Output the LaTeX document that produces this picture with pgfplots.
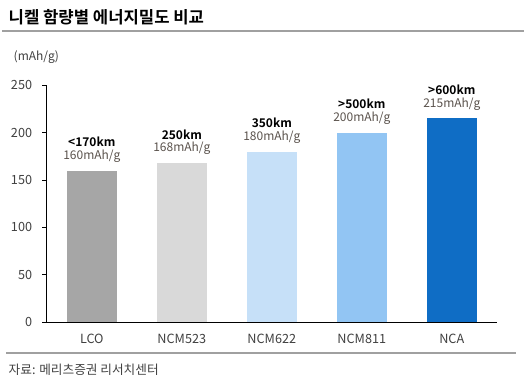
\documentclass[border=0pt]{standalone}
\usepackage{fontspec}
\setmainfont{Noto Sans CJK KR}[BoldFont={Noto Sans CJK KR Bold}]
\usepackage{pgfplots}
\pgfplotsset{compat=1.18}
\definecolor{cLCO}{HTML}{A6A6A6}
\definecolor{cN523}{HTML}{D9D9D9}
\definecolor{cN622}{HTML}{C6E0F8}
\definecolor{cN811}{HTML}{92C5F3}
\definecolor{cNCA}{HTML}{0F6DC5}
\definecolor{txt}{HTML}{404040}
\definecolor{vtxt}{HTML}{5A524C}
\definecolor{rule}{HTML}{A0A0A0}
\begin{document}
\begin{tikzpicture}[x=0.75pt,y=0.75pt]
\path[use as bounding box] (0,0) rectangle (524,381);
% title
\node[anchor=west,font=\fontsize{12.5}{14}\selectfont\bfseries] at (4,364) {니켈 함량별 에너지밀도 비교};
\draw[rule,line width=1.5pt] (2,350) -- (524,350);
\node[anchor=west,font=\fontsize{9}{11}\selectfont,text=txt] at (9,324) {(mAh/g)};
% bottom rule and source
\draw[rule,line width=0.9pt] (6,28) -- (516,28);
\node[anchor=west,font=\fontsize{9.5}{11}\selectfont,text=txt] at (4,11) {자료: 메리츠증권 리서치센터};
\begin{axis}[
  at={(52,62)}, anchor=south west,
  scale only axis, width=337.5pt, height=177.75pt,
  xmin=-0.5, xmax=4.5, ymin=0, ymax=250,
  axis x line*=bottom, axis y line*=left,
  axis line style={black, line width=0.6pt},
  ybar, bar width=37.5pt, bar shift=0pt,
  ytick={0,50,...,250},
  xtick={0,1,2,3,4},
  xticklabels={LCO,NCM523,NCM622,NCM811,NCA},
  major x tick style={draw=none},
  extra x ticks={-0.5,0.5,1.5,2.5,3.5,4.5},
  extra x tick labels={},
  extra x tick style={tick style={black,line width=0.6pt}, major tick length=4pt},
  tick align=outside,
  major tick length=3.5pt,
  y tick style={black,line width=0.6pt},
  /pgf/number format/assume math mode=true,
  tick label style={font=\fontsize{9.5}{11}\selectfont, text=txt},
  yticklabel style={xshift=-4pt},
  xticklabel style={yshift=-2pt},
  point meta=explicit symbolic,
  nodes near coords={\textbf{\pgfplotspointmeta}\\[-1.5pt]{\color{vtxt}\pgfmathprintnumber{\pgfkeysvalueof{/data point/y}}mAh/g}},
  nodes near coords style={align=center, font=\fontsize{9}{11}\selectfont, text=black, anchor=south, yshift=2.5pt},
  clip=false,
]
\addplot[fill=cLCO, draw=none] coordinates {(0,160) [<170km]};
\addplot[fill=cN523, draw=none] coordinates {(1,168) [250km]};
\addplot[fill=cN622, draw=none] coordinates {(2,180) [350km]};
\addplot[fill=cN811, draw=none] coordinates {(3,200) [>500km]};
\addplot[fill=cNCA, draw=none] coordinates {(4,215) [>600km]};
\end{axis}
\end{tikzpicture}
\end{document}
